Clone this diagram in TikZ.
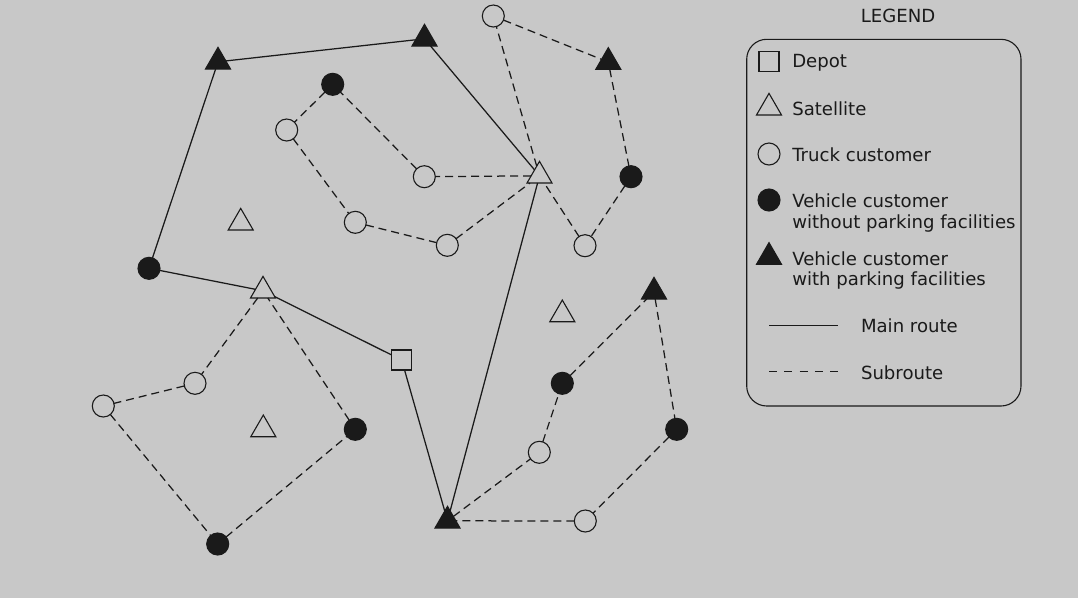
\documentclass[tikz,border=0pt]{standalone}
\usepackage{fontspec}
\setmainfont{DejaVu Sans}
\usetikzlibrary{shapes.geometric}
\definecolor{bg}{RGB}{200,200,200}
\definecolor{ink}{RGB}{26,26,26}
\begin{document}
\begin{tikzpicture}[x=1pt,y=-1pt,
 every node/.style={inner sep=0pt, outer sep=0pt},
 tc/.style={circle, draw=ink, line width=1.1pt, minimum size=22pt},
 vc/.style={circle, fill=ink, draw=ink, line width=1.1pt, minimum size=22pt},
 sat/.style={regular polygon, regular polygon sides=3, draw=ink, line width=1.1pt, minimum size=28.9pt},
 vt/.style={regular polygon, regular polygon sides=3, fill=ink, draw=ink, line width=1.1pt, minimum size=28.9pt},
 dep/.style={rectangle, draw=ink, line width=1.1pt, minimum size=20pt},
 mainr/.style={draw=ink, line width=1.25pt},
 subr/.style={draw=ink, line width=1.25pt, dash pattern=on 8pt off 5pt},
 lbl/.style={anchor=base west, font=\fontsize{18.1}{21}\selectfont, text=ink}
]
\fill[bg] (0,0) rectangle (1078,598);
\useasboundingbox (0,0) rectangle (1078,598);

% nodes
\node[vt] (T1) at (218,61.8) {};
\node[vt] (T2) at (424.5,38.8) {};
\node[vt] (T3) at (447.5,520.8) {};
\node[vt] (T4) at (654,291.8) {};
\node[vt] (T5) at (608.3,62.1) {};
\node[sat] (S1) at (539.5,175.8) {};
\node[sat] (S2) at (240.7,222.8) {};
\node[sat] (S3) at (263,290.8) {};
\node[sat] (S4) at (263.3,429.5) {};
\node[sat] (S5) at (562.3,314.5) {};
\node[dep] (D) at (401.7,360) {};
\node[vc] (C1) at (332.7,84.3) {};
\node[vc] (C2) at (149,268.3) {};
\node[vc] (C3) at (355.3,429.3) {};
\node[vc] (C4) at (217.7,544) {};
\node[vc] (C5) at (562.3,383.3) {};
\node[vc] (C6) at (676.7,429.3) {};
\node[vc] (C7) at (631,176.7) {};
\node[tc] (O1) at (286.7,130) {};
\node[tc] (O2) at (424.3,176.7) {};
\node[tc] (O3) at (355.3,222.3) {};
\node[tc] (O4) at (447.3,245.3) {};
\node[tc] (O5) at (195,383.3) {};
\node[tc] (O6) at (103.3,406) {};
\node[tc] (O7) at (539.3,452.3) {};
\node[tc] (O8) at (585.3,521) {};
\node[tc] (O9) at (493.3,16) {};
\node[tc] (O10) at (585,245.7) {};

% main route
\draw[mainr] (D) -- (S3) -- (C2) -- (T1) -- (T2) -- (S1) -- (T3) -- (D);

% subroutes
\draw[subr] (S1) -- (O2) -- (C1) -- (O1) -- (O3) -- (O4) -- (S1);
\draw[subr] (S1) -- (O9) -- (T5) -- (C7) -- (O10) -- (S1);
\draw[subr] (S3) -- (O5) -- (O6) -- (C4) -- (C3) -- (S3);
\draw[subr] (T3) -- (O7) -- (C5) -- (T4) -- (C6) -- (O8) -- (T3);

% legend
\node[anchor=base, font=\fontsize{18.1}{21}\selectfont, text=ink] (LT) at (898,22.7) {LEGEND};
\draw[ink, line width=1.1pt, rounded corners=20pt] (746.7,39.3) rectangle (1021,406);
\node[dep] (LD) at (769,61.7) {};
\node[sat] (LS) at (769,107.8) {};
\node[tc] (LO) at (769,154) {};
\node[vc] (LC) at (769,200) {};
\node[vt] (LV) at (769,257.1) {};
\coordinate (LMa) at (769,325.7);
\coordinate (LMb) at (838,325.7);
\coordinate (LSa) at (769,371.5);
\coordinate (LSb) at (838,371.5);
\draw[mainr] (LMa) -- (LMb);
\draw[draw=ink, line width=1.25pt, dash pattern=on 8pt off 7.25pt] (LSa) -- (LSb);
\node[lbl] (t1) at (792.3,67.7) {Depot};
\node[lbl] (t2) at (792.3,115) {Satellite};
\node[lbl] (t3) at (792.3,161.7) {Truck customer};
\node[lbl] (t4) at (792.3,207.3) {Vehicle customer};
\node[lbl] (t5) at (792.3,228.3) {without parking facilities};
\node[lbl] (t6) at (792.3,265) {Vehicle customer};
\node[lbl] (t7) at (792.3,285.7) {with parking facilities};
\node[lbl] (t8) at (861,332.7) {Main route};
\node[lbl] (t9) at (861,379.3) {Subroute};
\end{tikzpicture}
\end{document}
